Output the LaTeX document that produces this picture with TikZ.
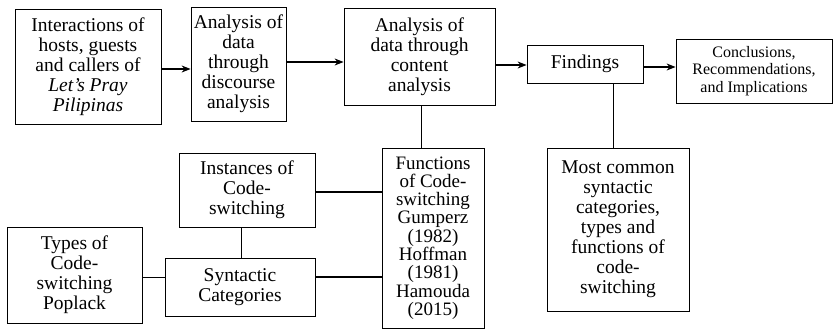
\documentclass[tikz,border=0pt]{standalone}
\usepackage{fontspec}
\setmainfont{Liberation Serif}
\usepackage{tikz}
\usetikzlibrary{arrows.meta,positioning}
\tikzset{
  box/.style  ={draw, align=center, inner sep=0pt, line width=0.8pt,
                font=\fontsize{19.5}{20}\selectfont},
  tight/.style={font=\fontsize{19}{18.3}\selectfont},
  small/.style={font=\fontsize{16}{17.5}\selectfont},
  flow/.style ={-{Stealth[length=9pt,width=7pt]}, line width=1.2pt},
  link/.style ={line width=0.8pt},
  thick link/.style={line width=1.6pt}
}
\begin{document}
\begin{tikzpicture}[x=1pt,y=-1pt]
  \useasboundingbox (0,0) rectangle (834,329);
  \node[box, minimum width=146pt, minimum height=115pt] (interact) at (88,66.5)
    {Interactions of\\hosts, guests\\and callers of\\\textit{Let’s Pray}\\\textit{Pilipinas}};
  \node[box, minimum width=95pt, minimum height=114pt] (discourse) at (238.5,64)
    {Analysis of\\data\\through\\discourse\\analysis};
  \node[box, minimum width=151pt, minimum height=97pt] (content) at (419.5,56.5)
    {Analysis of\\data through\\content\\analysis};
  \node[box, minimum width=116pt, minimum height=38pt] (findings) at (585,64) {Findings};
  \node[box, small, minimum width=156pt, minimum height=64pt] (concl) at (754,71)
    {Conclusions,\\Recommendations,\\and Implications};
  \node[box, minimum width=136pt, minimum height=74pt] (instances) at (247,190)
    {Instances of\\Code-\\switching};
  \node[box, minimum width=150pt, minimum height=58pt] (syntactic) at (240,287)
    {Syntactic\\Categories};
  \node[box, minimum width=135pt, minimum height=96pt] (types) at (74.5,275)
    {Types of\\Code-\\switching\\Poplack};
  \node[box, tight, minimum width=102pt, minimum height=180pt] (functions) at (433,238)
    {Functions\\of Code-\\switching\\Gumperz\\(1982)\\Hoffman\\(1981)\\Hamouda\\(2015)};
  \node[box, minimum width=142pt, minimum height=163pt] (common) at (618,229.5)
    {Most common\\syntactic\\categories,\\types and\\functions of\\code-\\switching};
  \draw[flow] (interact.east |- 0,69) -- (discourse.west |- 0,69);
  \draw[flow] (discourse.east |- 0,62) -- (content.west |- 0,62);
  \draw[flow] (content.east |- 0,65) -- (findings.west |- 0,65);
  \draw[flow] (findings.east |- 0,67) -- (concl.west |- 0,67);
  \draw[link] (content.south -| 421,0) -- (functions.north -| 421,0);
  \draw[link] (findings.south -| 613,0) -- (common.north -| 613,0);
  \draw[thick link] (instances.east |- 0,192) -- (functions.west |- 0,192);
  \draw[thick link] (syntactic.east |- 0,277) -- (functions.west |- 0,277);
  \draw[link] (types.east |- 0,277) -- (syntactic.west |- 0,277);
  \draw[link] (instances.south -| 241,0) -- (syntactic.north -| 241,0);
\end{tikzpicture}
\end{document}
